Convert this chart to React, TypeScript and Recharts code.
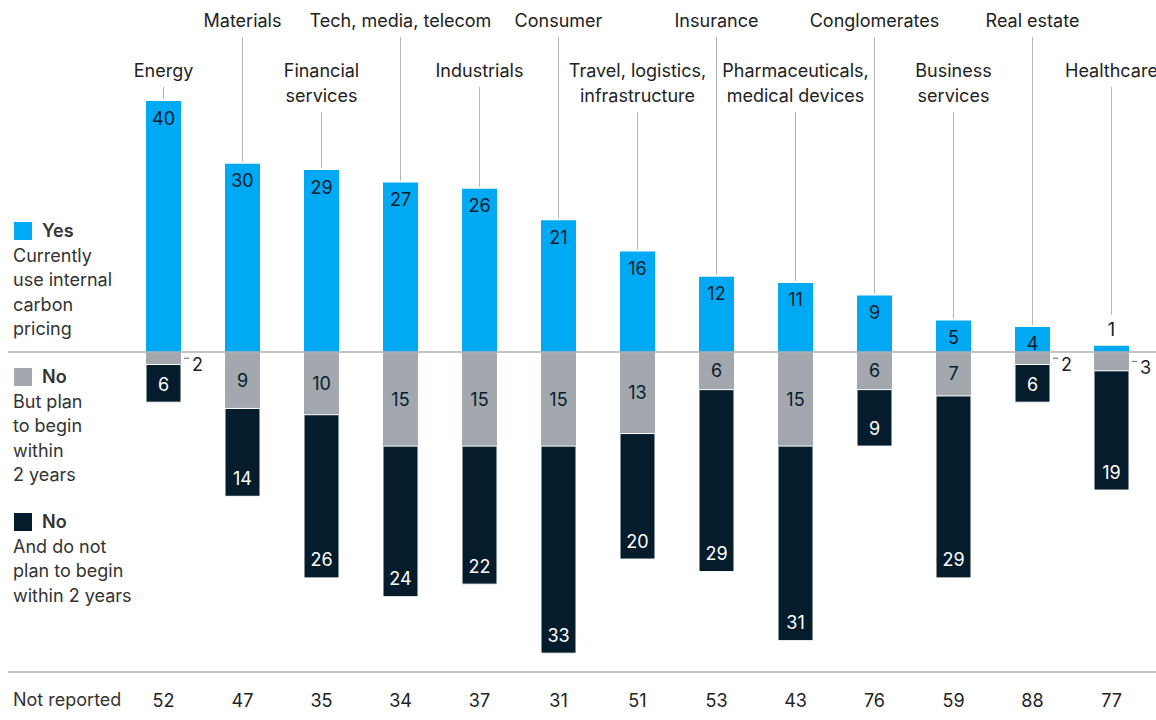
import React from 'react';
import { BarChart, Bar, XAxis, YAxis, ReferenceLine, LabelList } from 'recharts';

const categories = [
  'Energy',
  'Materials',
  'Financial\nservices',
  'Tech, media, telecom',
  'Industrials',
  'Consumer',
  'Travel, logistics,\ninfrastructure',
  'Insurance',
  'Pharmaceuticals,\nmedical devices',
  'Conglomerates',
  'Business\nservices',
  'Real estate',
  'Healthcare',
];
const yesValues = [40, 30, 29, 27, 26, 21, 16, 12, 11, 9, 5, 4, 1];
const noPlanValues = [2, 9, 10, 15, 15, 15, 13, 6, 15, 6, 7, 2, 3];
const noNotPlanValues = [6, 14, 26, 24, 22, 33, 20, 29, 31, 9, 29, 6, 19];
const notReported = [52, 47, 35, 34, 37, 31, 51, 53, 43, 76, 59, 88, 77];

const BLUE = '#00A9F4';
const GREY = '#A2A8AE';
const NAVY = '#051C2C';
const TEXT = '#222222';
const FONT = 'Inter, "Noto Sans", sans-serif';

const data = categories.map((c, i) => ({
  name: c,
  yes: yesValues[i],
  noPlan: -noPlanValues[i],
  noNotPlan: -noNotPlanValues[i],
}));

const box = (p: any) => {
  const x = p.x ?? p.viewBox?.x;
  const y0 = p.y ?? p.viewBox?.y;
  const w = p.width ?? p.viewBox?.width;
  const h0 = p.height ?? p.viewBox?.height;
  const top = Math.min(y0, y0 + h0);
  const h = Math.abs(h0);
  return { x, top, w, h, bottom: top + h, index: p.index };
};

const YesLabel = (p: any) => {
  const { x, top, w, index } = box(p);
  const cx = x + w / 2;
  const lines = categories[index].split('\n');
  const high = index % 2 === 1;
  const firstY = high ? 20 : 70;
  const lineStart = firstY + (lines.length - 1) * 25 + 17;
  const v = yesValues[index];
  const small = v < 3;
  const lineEnd = small ? top - 31 : top - 2;
  return (
    <g>
      {lines.map((t, k) => (
        <text key={k} x={cx} y={firstY + k * 25} textAnchor="middle" dominantBaseline="central"
          fontSize={18} fontFamily={FONT} fill={TEXT}>{t}</text>
      ))}
      <line x1={cx} x2={cx} y1={lineStart} y2={lineEnd} stroke="#b5b5b5" strokeWidth={1} />
      <text x={cx} y={small ? top - 16 : top + 17} textAnchor="middle" dominantBaseline="central"
        fontSize={18} fontFamily={FONT} fill={NAVY}>{v}</text>
    </g>
  );
};

const GreyLabel = (p: any) => {
  const { x, top, w, h, index } = box(p);
  const v = noPlanValues[index];
  if (v < 4) {
    const cy = top + h / 2;
    return (
      <g>
        <line x1={x + w + 3} x2={x + w + 8} y1={cy} y2={cy} stroke="#666" strokeWidth={1} />
        <text x={x + w + 11} y={cy + 6} dominantBaseline="central" fontSize={18} fontFamily={FONT} fill={TEXT}>{v}</text>
      </g>
    );
  }
  return (
    <text x={x + w / 2} y={top + h / 2} textAnchor="middle" dominantBaseline="central"
      fontSize={18} fontFamily={FONT} fill={NAVY}>{v}</text>
  );
};

const NavyLabel = (p: any) => {
  const { x, bottom, w, index } = box(p);
  const v = noNotPlanValues[index];
  return (
    <text x={x + w / 2} y={bottom - 18} textAnchor="middle" dominantBaseline="central"
      fontSize={18} fontFamily={FONT} fill="#ffffff">{v}</text>
  );
};

const NotReportedTick = (p: any) => {
  const i = categories.indexOf(p.payload?.value);
  return (
    <text x={p.x} y={700} textAnchor="middle" dominantBaseline="central" fontSize={18}
      fontFamily={FONT} fill={TEXT}>{notReported[i]}</text>
  );
};

const legendBlock = (top: number, color: string, title: string, lines: string[]) => (
  <div style={{ position: 'absolute', left: 13, top, fontFamily: FONT, fontSize: 18, color: '#333', lineHeight: '24.6px' }}>
    <div style={{ display: 'flex', alignItems: 'center' }}>
      <span style={{ display: 'inline-block', width: 18, height: 18, background: color, marginLeft: 1, marginRight: 10 }} />
      <span style={{ fontWeight: 600, color: '#333' }}>{title}</span>
    </div>
    {lines.map((l, k) => <div key={k}>{l}</div>)}
  </div>
);

export default function App() {
  return (
    <div style={{ position: 'absolute', left: 0, top: 0, width: 1156, height: 720, background: '#fff', overflow: 'hidden' }}>
      <BarChart width={1156} height={720} data={data} stackOffset="sign"
        margin={{ top: 101, right: 0, bottom: 0, left: 8 }}>
        <YAxis hide domain={[-51, 40]} type="number" allowDataOverflow />
        <XAxis dataKey="name" height={48} padding={{ left: 116, right: 5 }} tickLine={false}
          axisLine={{ stroke: '#b0b0b0', strokeWidth: 1.5 }} tick={<NotReportedTick />} interval={0} />
        <ReferenceLine y={0} stroke="#b0b0b0" strokeWidth={1.5} />
        <Bar dataKey="yes" stackId="s" fill={BLUE} barSize={35} isAnimationActive={false}>
          <LabelList dataKey="yes" content={<YesLabel />} />
        </Bar>
        <Bar dataKey="noPlan" stackId="s" fill={GREY} barSize={35} isAnimationActive={false}>
          <LabelList dataKey="noPlan" content={<GreyLabel />} />
        </Bar>
        <Bar dataKey="noNotPlan" stackId="s" fill={NAVY} barSize={35} stroke="#ffffff" strokeWidth={1} isAnimationActive={false}>
          <LabelList dataKey="noNotPlan" content={<NavyLabel />} />
        </Bar>
      </BarChart>
      {legendBlock(219, BLUE, 'Yes', ['Currently', 'use internal', 'carbon', 'pricing'])}
      {legendBlock(365, GREY, 'No', ['But plan', 'to begin', 'within', '2 years'])}
      {legendBlock(510, NAVY, 'No', ['And do not', 'plan to begin', 'within 2 years'])}
      <div style={{ position: 'absolute', left: 13, top: 689, fontFamily: FONT, fontSize: 18, color: '#333' }}>Not reported</div>
    </div>
  );
}
